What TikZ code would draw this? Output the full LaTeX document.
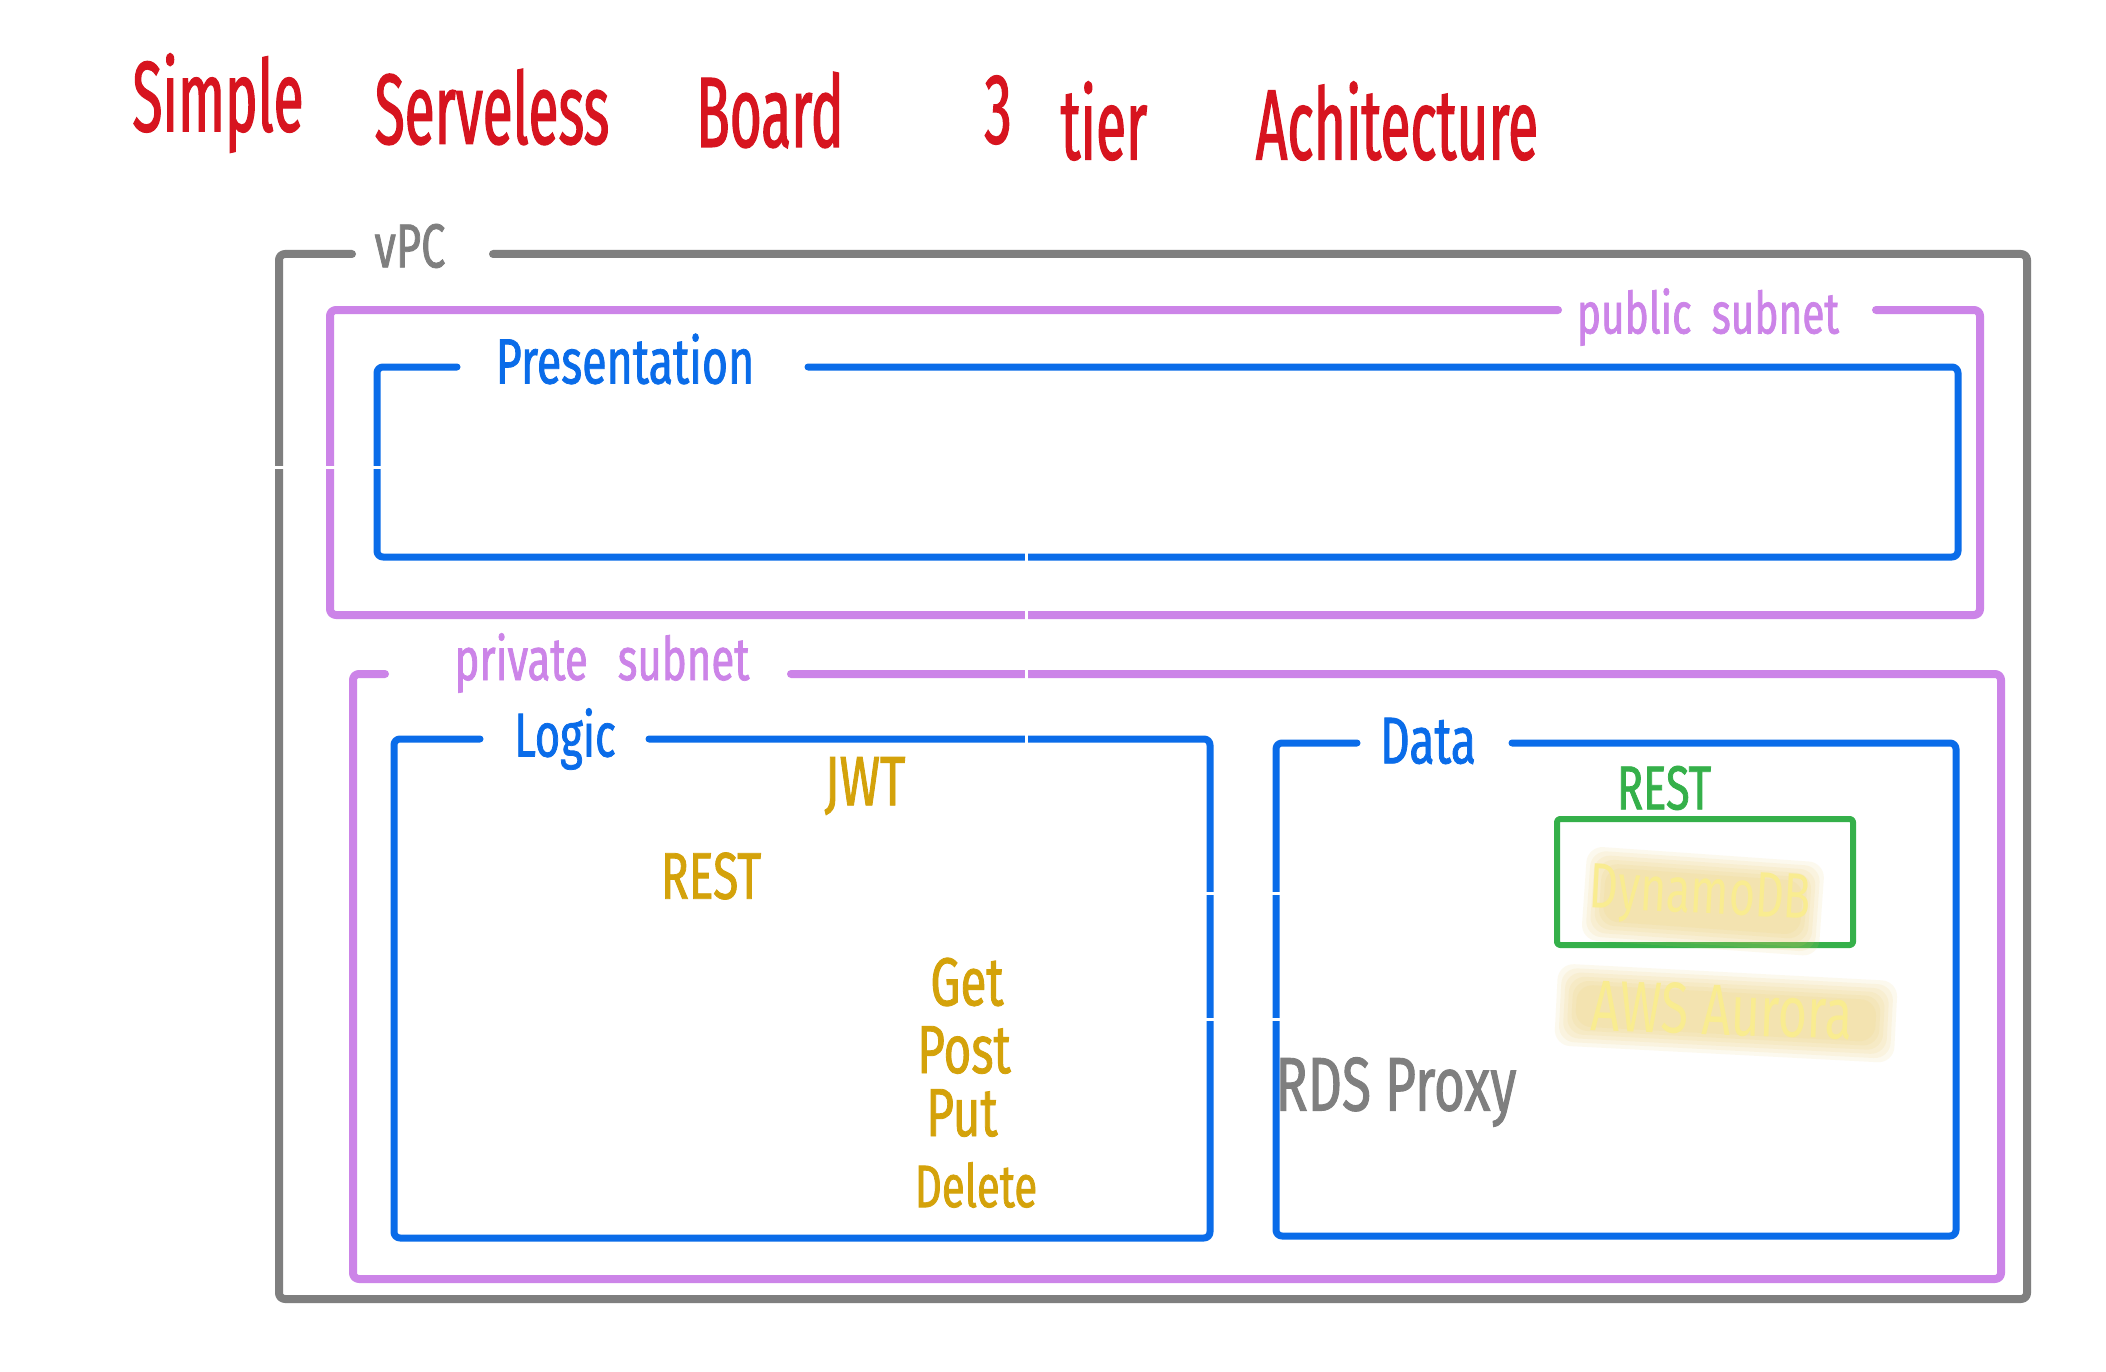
\documentclass[tikz,border=0pt]{standalone}
\usepackage{fontspec}
\newfontfamily\hand[FakeStretch=0.7,FakeBold=1.2]{Fira Sans}
\newfontfamily\handlight[FakeStretch=0.7]{Fira Sans}
\newfontfamily\handtitle[FakeStretch=0.55,FakeBold=1.2]{Fira Sans}
\definecolor{tred}{HTML}{D7141F}
\definecolor{tgray}{HTML}{7F7F7F}
\definecolor{tviolet}{HTML}{CC84E8}
\definecolor{tblue}{HTML}{0A6CE9}
\definecolor{tgreen}{HTML}{35B04A}
\definecolor{tgold}{HTML}{D4A20A}
\definecolor{hlyellow}{HTML}{EBCB66}
\definecolor{hltext}{HTML}{F9EC90}
\tikzset{
  frame/.style={line width=#1, line join=round, line cap=round, rounded corners=6pt},
  vpcline/.style={frame=8pt, draw=tgray},
  subnetline/.style={frame=8pt, draw=tviolet},
  tierline/.style={frame=7pt, draw=tblue},
  restbox/.style={frame=6pt, draw=tgreen, rounded corners=3pt},
  seam/.style={draw=white, line width=3pt},
  lbl/.style={inner sep=0pt, font=\hand\fontsize{#1}{#1}\selectfont},
  hltxt/.style={inner sep=0pt, text=hltext, font=\handlight\fontsize{#1}{#1}\selectfont},
  ttl/.style={inner sep=0pt, text=tred, font=\handtitle\fontsize{100}{100}\selectfont},
  hlstrip/.style={fill=hlyellow, opacity=0.11, rounded corners=16pt},
}
\begin{document}
\begin{tikzpicture}[x=1pt,y=-1pt]
\useasboundingbox[fill=white] (0,0) rectangle (2106,1372);

% title
\node[ttl] (t1) at (218,103) {Simple};
\node[ttl] (t2) at (492,107) {Serveless};
\node[ttl] (t3) at (770,110) {Board};
\node[ttl] (t4) at (998,110) {3};
\node[ttl] (t5) at (1104,121) {tier};
\node[ttl] (t6) at (1397,121) {Achitecture};

% VPC
\draw[vpcline] (493,254) -- (2027,254) -- (2027,1299) -- (279,1299) -- (279,254) -- (352,254);
\node[lbl=62, text=tgray] (vpc) at (410,246) {vPC};

% public subnet
\draw[subnetline] (1876,310) -- (1980,310) -- (1980,615) -- (330,615) -- (330,310) -- (1558,310);
\node[lbl=58, text=tviolet] (pub) at (1708,317) {public\hspace{0.35em}subnet};

% presentation
\draw[tierline] (808,367) -- (1958,367) -- (1958,557) -- (377,557) -- (377,367) -- (457,367);
\node[lbl=64, text=tblue] (pres) at (625,359) {Presentation};

% private subnet
\draw[subnetline] (791,674) -- (2001,674) -- (2001,1279) -- (353,1279) -- (353,674) -- (385,674);
\node[lbl=60, text=tviolet] (priv) at (602,663) {private\hspace{0.5em}subnet};

% logic
\draw[tierline] (649,739) -- (1210,739) -- (1210,1238) -- (394,1238) -- (394,739) -- (480,739);
\node[lbl=62, text=tblue] (logic) at (565,739) {Logic};
\node[lbl=70, text=tgold] (jwt) at (865,786) {JWT};
\node[lbl=66, text=tgold] (rest1) at (711,876) {REST};
\node[lbl=68, text=tgold] (get) at (967,982) {Get};
\node[lbl=68, text=tgold] (post) at (964,1050) {Post};
\node[lbl=68, text=tgold] (put) at (962,1113) {Put};
\node[lbl=60, text=tgold] (del) at (976,1185) {Delete};

% data
\draw[tierline] (1512,743) -- (1956,743) -- (1956,1236) -- (1276,1236) -- (1276,743) -- (1357,743);
\node[lbl=66, text=tblue] (data) at (1428,741) {Data};
\node[lbl=62, text=tgreen] (rest2) at (1664,788) {REST};
\draw[restbox] (1557,819) rectangle (1853,945);

% highlighted DynamoDB
\foreach \d in {0,4,8,12,16,20}{
  \fill[hlstrip, rotate around={-4:(1700,900)}] (1584+\d,854+\d) rectangle (1822-\d,948-\d);
}
\node[hltxt=64, rotate=-3] (dyn) at (1700,898) {DynamoDB};

% highlighted AWS Aurora
\foreach \d in {0,4,8,12,16,20}{
  \fill[hlstrip, rotate around={-3:(1722,1012)}] (1556+\d,972+\d) rectangle (1896-\d,1054-\d);
}
\node[hltxt=72, rotate=-2] (aur) at (1722,1010) {AWS Aurora};

% RDS proxy
\node[lbl=76, text=tgray] (rds) at (1396,1092) {RDS Proxy};

% image seams
\draw[seam] (1026,400) -- (1026,770);
\draw[seam] (260,467) -- (400,467);
\draw[seam] (1195,893) -- (1295,893);
\draw[seam] (1195,1019) -- (1295,1019);
\end{tikzpicture}
\end{document}
